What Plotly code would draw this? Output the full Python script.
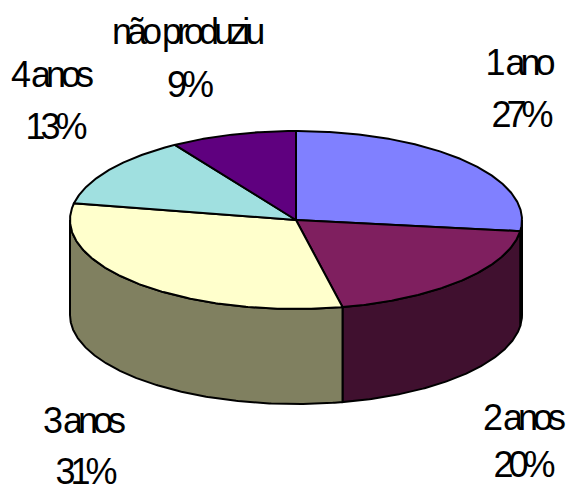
import numpy as np
import plotly.graph_objects as go

LABELS = ["1 ano", "2 anos", "3 anos", "4 anos", "não produziu"]
VALUES = [27, 19.7, 31.3, 13, 9]
TOP_COLORS = ["#8080FF", "#7F1F5F", "#FFFFCC", "#A0E0E0", "#5F007F"]
SIDE_COLORS = ["#404080", "#40102F", "#808060", "#507070", "#300040"]

# pie geometry in page pixels
CX, CY = 296, 220
RX, RY = 226, 89
DEPTH = 95
FONT = "Liberation Sans, Arial, sans-serif"
FONT_SIZE = 36

# label centres: (name x, name y, percent x, percent y)
LABEL_POS = {
    "1 ano": (518, 62, 520, 114),
    "2 anos": (522, 417, 522, 464),
    "3 anos": (82, 420, 84, 471),
    "4 anos": (50, 74, 54, 126),
    "não produziu": (186, 31, 188, 84),
}


def arc(a0, a1, dy=0):
    """Ellipse arc between two angles, degrees clockwise from 12 o'clock."""
    t = np.radians(np.linspace(a0, a1, max(int(abs(a1 - a0) * 2), 2)))
    return CX + RX * np.sin(t), CY - RY * np.cos(t) + dy


def add_poly(fig, x, y, color):
    fig.add_trace(
        go.Scatter(
            x=x, y=y, mode="lines", fill="toself", fillcolor=color,
            line={"color": "black", "width": 2}, hoverinfo="skip", showlegend=False,
        )
    )


fig = go.Figure()
edges = np.cumsum([0] + VALUES) / sum(VALUES) * 360

# front wall, only the part between 3 and 9 o'clock can be seen
for a0, a1, side in zip(edges[:-1], edges[1:], SIDE_COLORS):
    lo, hi = max(a0, 90), min(a1, 270)
    if lo >= hi:
        continue
    tx, ty = arc(lo, hi)
    bx, by = arc(hi, lo, DEPTH)
    add_poly(fig, np.r_[tx, bx, tx[0]], np.r_[ty, by, ty[0]], side)

# slices on top
for a0, a1, top in zip(edges[:-1], edges[1:], TOP_COLORS):
    ax, ay = arc(a0, a1)
    add_poly(fig, np.r_[CX, ax, CX], np.r_[CY, ay, CY], top)

for name, value in zip(LABELS, VALUES):
    nx, ny, px, py = LABEL_POS[name]
    for x, y, text in [(nx, ny, name), (px, py, f"{value:.0f}%")]:
        fig.add_annotation(
            x=x, y=y, text=text, showarrow=False, xref="x", yref="y",
            xanchor="center", yanchor="middle",
            font={"size": FONT_SIZE, "color": "black", "family": FONT},
        )

fig.update_layout(
    width=566,
    height=484,
    margin={"t": 0, "b": 0, "l": 0, "r": 0},
    plot_bgcolor="white",
    paper_bgcolor="white",
    showlegend=False,
)
fig.update_xaxes(range=[0, 566], visible=False, fixedrange=True)
fig.update_yaxes(range=[484, 0], visible=False, fixedrange=True)

# page margin off, and labels in the original are set very tight
TIGHT_TEXT = """
document.documentElement.style.overflow = 'hidden';
document.body.style.margin = '0';
document.querySelectorAll('.annotation-text').forEach(function (t) {
  t.style.letterSpacing = '-5px';
});
"""
fig.write_html("out.html", post_script=TIGHT_TEXT, config={"displayModeBar": False})
